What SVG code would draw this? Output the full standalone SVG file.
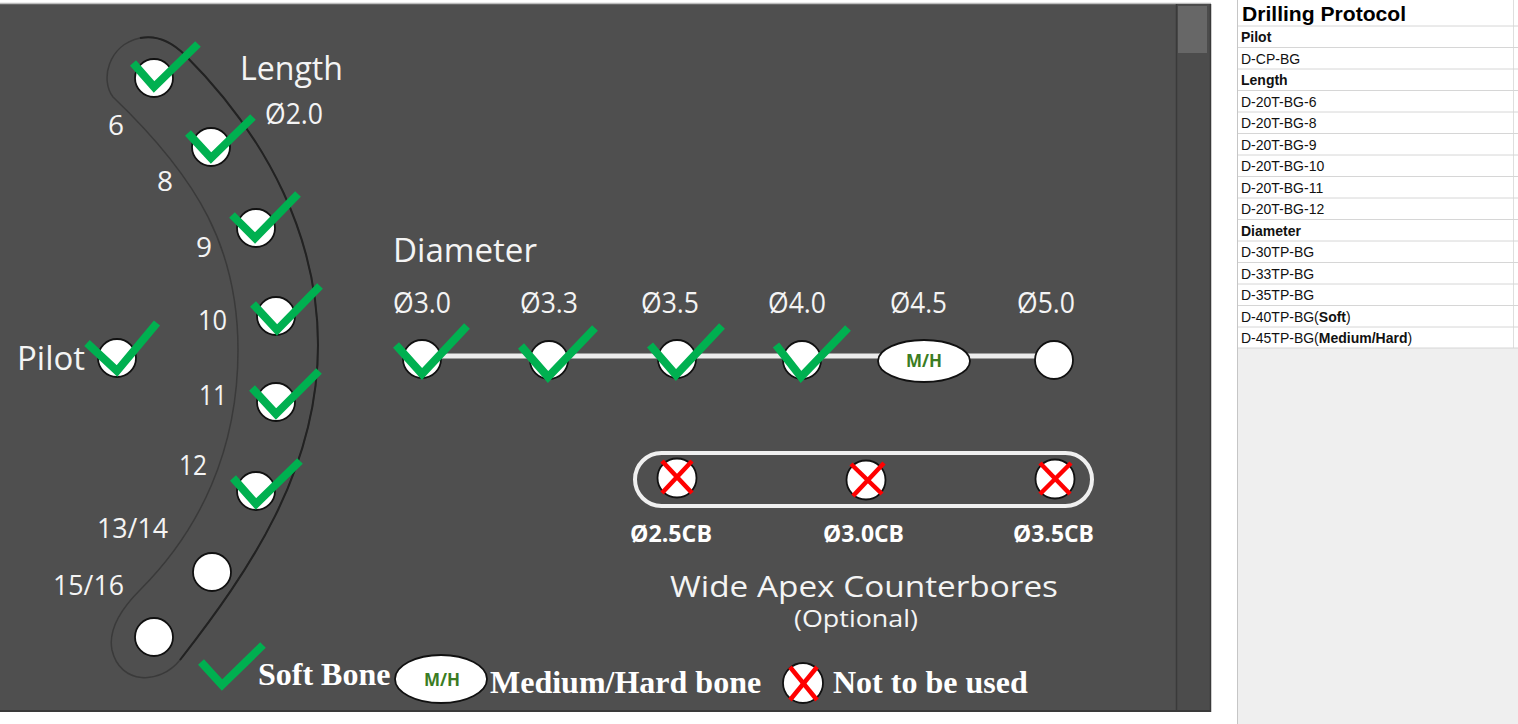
<svg xmlns="http://www.w3.org/2000/svg" width="1518" height="724" viewBox="0 0 1518 724">
<style>
.lbl{font-family:"Open Sans","Noto Sans",sans-serif;fill:#f4f4f4}
.leg{font-family:"Liberation Serif",serif;font-weight:bold;font-size:32px;fill:#ffffff}
.cb{font-family:"Open Sans","Noto Sans",sans-serif;font-weight:bold;font-size:23px;fill:#ffffff}
.mh{font-family:"Open Sans","Noto Sans",sans-serif;font-weight:bold;font-size:17px;fill:#3b7d23}
.hole{fill:#ffffff;stroke:#111111;stroke-width:1.8}
.chk{fill:none;stroke:#00b050;stroke-width:8;stroke-linejoin:miter;stroke-linecap:butt}
.xx{stroke:#ff0000;stroke-width:4.5}
.tb{font-family:"Liberation Sans",Arial,sans-serif;font-size:14px;fill:#111111}
.tbb{font-family:"Liberation Sans",Arial,sans-serif;font-size:14px;font-weight:bold;fill:#111111}
.rl{stroke:#d6d6d6;stroke-width:1}
</style>
<rect x="0" y="0" width="1518" height="724" fill="#ffffff"/>
<!-- dark panel -->
<g id="panel">
<rect x="0" y="3" width="1211" height="709" fill="#4f4f4f"/>
<line x1="0" y1="3.5" x2="1211" y2="3.5" stroke="#bdbdbd" stroke-width="1.5"/>
<rect x="1176" y="4" width="35" height="708" fill="#4c4c4c"/>
<line x1="1176.5" y1="4" x2="1176.5" y2="712" stroke="#3a3a3a" stroke-width="1.5"/>
<rect x="1178" y="6" width="29" height="47" fill="#676767"/>
<line x1="1210.5" y1="4" x2="1210.5" y2="712" stroke="#3a3a3a" stroke-width="1.5"/>
<line x1="0" y1="711" x2="1211" y2="711" stroke="#3a3a3a" stroke-width="2"/>
</g>
<!-- banana outline -->
<g id="length-guide">
<path d="M 113 97 C 100 80, 108 45, 140 38 C 160 34, 175 45, 185 55 C 270 140, 318 240, 318 345 C 318 470, 250 570, 180 660 C 160 685, 120 685, 112 650 C 108 630, 120 610, 140 590 C 200 530, 238 450, 238 350 C 238 250, 200 180, 113 97 Z" fill="none" stroke="#3a3a3a" stroke-width="1.5"/>
<path d="M 140 38 C 160 34, 175 45, 185 55 C 270 140, 318 240, 318 345 C 318 470, 250 570, 180 660" fill="none" stroke="#222222" stroke-width="2"/>
</g>
<!-- connectors -->
<g id="connectors">
<line x1="442" y1="356" x2="1036" y2="356" stroke="#ececec" stroke-width="5"/>
<rect x="635" y="453" width="457" height="53" rx="26.5" fill="none" stroke="#f0f0f0" stroke-width="4"/>
</g>
<!-- titles -->
<g id="titles">
<text class="lbl" x="240" y="80" font-size="33" textLength="103" lengthAdjust="spacingAndGlyphs">Length</text>
<text class="lbl" x="265" y="124" font-size="29" textLength="58" lengthAdjust="spacingAndGlyphs">Ø2.0</text>
<text class="lbl" x="17" y="370" font-size="32" textLength="68" lengthAdjust="spacingAndGlyphs">Pilot</text>
<text class="lbl" x="393" y="262" font-size="33" textLength="144" lengthAdjust="spacingAndGlyphs">Diameter</text>
<text class="lbl" x="670" y="597" font-size="29" textLength="388" lengthAdjust="spacingAndGlyphs">Wide Apex Counterbores</text>
<text class="lbl" x="794" y="627" font-size="24" textLength="124" lengthAdjust="spacingAndGlyphs">(Optional)</text>
</g>
<!-- pilot -->
<g id="node-pilot">
<circle class="hole" cx="117" cy="358" r="19"/>
<polyline class="chk" points="87,343 117,371 157,323"/>
</g>
<!-- length nodes -->
<g id="node-len-6">
<circle class="hole" cx="154" cy="78" r="19"/>
<polyline class="chk" points="133,63 154,87 198,44"/>
<text class="lbl" x="108" y="135" font-size="28">6</text>
</g>
<g id="node-len-8">
<circle class="hole" cx="211" cy="147" r="19"/>
<polyline class="chk" points="188,133 211,158 253,117"/>
<text class="lbl" x="157" y="191" font-size="28">8</text>
</g>
<g id="node-len-9">
<circle class="hole" cx="256" cy="228" r="19"/>
<polyline class="chk" points="232,215 255,238 298,194"/>
<text class="lbl" x="196" y="257" font-size="28">9</text>
</g>
<g id="node-len-10">
<circle class="hole" cx="276" cy="316" r="19"/>
<polyline class="chk" points="253,304 277,330 320,286"/>
<text class="lbl" x="198" y="330" font-size="28" textLength="29" lengthAdjust="spacingAndGlyphs">10</text>
</g>
<g id="node-len-11">
<circle class="hole" cx="276" cy="402" r="19"/>
<polyline class="chk" points="252,388 276,414 319,371"/>
<text class="lbl" x="199" y="405" font-size="28" textLength="28" lengthAdjust="spacingAndGlyphs">11</text>
</g>
<g id="node-len-12">
<circle class="hole" cx="256" cy="491" r="19"/>
<polyline class="chk" points="233,478 256,504 300,461"/>
<text class="lbl" x="179" y="475" font-size="28" textLength="28" lengthAdjust="spacingAndGlyphs">12</text>
</g>
<g id="node-len-13-14">
<circle class="hole" cx="212" cy="572" r="19"/>
<text class="lbl" x="97" y="538" font-size="28" textLength="71" lengthAdjust="spacingAndGlyphs">13/14</text>
</g>
<g id="node-len-15-16">
<circle class="hole" cx="154" cy="637" r="19"/>
<text class="lbl" x="53" y="595" font-size="28" textLength="71" lengthAdjust="spacingAndGlyphs">15/16</text>
</g>
<!-- diameter nodes -->
<g id="node-d30">
<circle class="hole" cx="422" cy="359" r="19"/>
<polyline class="chk" points="396,345 422,374 467,326"/>
<text class="lbl" x="393" y="313" font-size="29" textLength="58" lengthAdjust="spacingAndGlyphs">Ø3.0</text>
</g>
<g id="node-d33">
<circle class="hole" cx="549" cy="360" r="19"/>
<polyline class="chk" points="521,346 548,377 595,328"/>
<text class="lbl" x="520" y="313" font-size="29" textLength="58" lengthAdjust="spacingAndGlyphs">Ø3.3</text>
</g>
<g id="node-d35">
<circle class="hole" cx="677" cy="359" r="19"/>
<polyline class="chk" points="650,345 676,375 722,326"/>
<text class="lbl" x="641" y="313" font-size="29" textLength="58" lengthAdjust="spacingAndGlyphs">Ø3.5</text>
</g>
<g id="node-d40">
<circle class="hole" cx="802" cy="360" r="19"/>
<polyline class="chk" points="776,345 801,377 848,328"/>
<text class="lbl" x="768" y="313" font-size="29" textLength="58" lengthAdjust="spacingAndGlyphs">Ø4.0</text>
</g>
<g id="node-d45">
<ellipse class="hole" cx="924" cy="361" rx="46" ry="21"/>
<text class="mh" x="924" y="367" text-anchor="middle">M/H</text>
<text class="lbl" x="890" y="313" font-size="29" textLength="57" lengthAdjust="spacingAndGlyphs">Ø4.5</text>
</g>
<g id="node-d50">
<circle class="hole" cx="1054" cy="360" r="19"/>
<text class="lbl" x="1017" y="313" font-size="29" textLength="58" lengthAdjust="spacingAndGlyphs">Ø5.0</text>
</g>
<!-- counterbores -->
<g id="node-cb25">
<circle class="hole" cx="677" cy="478" r="19.5"/>
<line class="xx" x1="662" y1="461" x2="692" y2="493"/>
<line class="xx" x1="692" y1="461" x2="662" y2="493"/>
<text class="cb" x="630" y="542" textLength="82" lengthAdjust="spacingAndGlyphs">Ø2.5CB</text>
</g>
<g id="node-cb30">
<circle class="hole" cx="866" cy="480" r="19.5"/>
<line class="xx" x1="851" y1="464" x2="882" y2="494"/>
<line class="xx" x1="884" y1="463" x2="853" y2="496"/>
<text class="cb" x="823" y="542" textLength="81" lengthAdjust="spacingAndGlyphs">Ø3.0CB</text>
</g>
<g id="node-cb35">
<circle class="hole" cx="1055" cy="479" r="19.5"/>
<line class="xx" x1="1040" y1="463" x2="1070" y2="494"/>
<line class="xx" x1="1071" y1="463" x2="1040" y2="494"/>
<text class="cb" x="1013" y="542" textLength="81" lengthAdjust="spacingAndGlyphs">Ø3.5CB</text>
</g>
<!-- legend -->
<g id="legend">
<polyline class="chk" points="201,662 222,685 263,645"/>
<text class="leg" x="258" y="685">Soft Bone</text>
<ellipse class="hole" cx="441" cy="679" rx="46" ry="24"/>
<text class="mh" x="442" y="686" text-anchor="middle">M/H</text>
<text class="leg" x="490" y="693">Medium/Hard bone</text>
<circle class="hole" cx="803" cy="683" r="20"/>
<line class="xx" x1="790" y1="667" x2="817" y2="700"/>
<line class="xx" x1="817" y1="667" x2="790" y2="700"/>
<text class="leg" x="833" y="693">Not to be used</text>
</g>
<!-- table -->
<g id="table">
<rect x="1237" y="348" width="281" height="376" fill="#efefef"/>
<line x1="1237.5" y1="0" x2="1237.5" y2="724" stroke="#c6c6c6" stroke-width="1"/>
<line x1="1513.5" y1="0" x2="1513.5" y2="348" stroke="#dedede" stroke-width="1"/>
<line class="rl" x1="1238" y1="26" x2="1518" y2="26"/>
<line class="rl" x1="1238" y1="47.5" x2="1518" y2="47.5"/>
<line class="rl" x1="1238" y1="69" x2="1518" y2="69"/>
<line class="rl" x1="1238" y1="90.5" x2="1518" y2="90.5"/>
<line class="rl" x1="1238" y1="112" x2="1518" y2="112"/>
<line class="rl" x1="1238" y1="133.5" x2="1518" y2="133.5"/>
<line class="rl" x1="1238" y1="155" x2="1518" y2="155"/>
<line class="rl" x1="1238" y1="176.5" x2="1518" y2="176.5"/>
<line class="rl" x1="1238" y1="198" x2="1518" y2="198"/>
<line class="rl" x1="1238" y1="219.5" x2="1518" y2="219.5"/>
<line class="rl" x1="1238" y1="241" x2="1518" y2="241"/>
<line class="rl" x1="1238" y1="262.5" x2="1518" y2="262.5"/>
<line class="rl" x1="1238" y1="284" x2="1518" y2="284"/>
<line class="rl" x1="1238" y1="305.5" x2="1518" y2="305.5"/>
<line class="rl" x1="1238" y1="327" x2="1518" y2="327"/>
<line class="rl" x1="1238" y1="348" x2="1518" y2="348"/>
<text x="1242" y="21" font-family="Liberation Sans, Arial, sans-serif" font-weight="bold" font-size="20" fill="#000" textLength="164" lengthAdjust="spacingAndGlyphs">Drilling Protocol</text>
<text class="tbb" x="1241" y="42">Pilot</text>
<text class="tb" x="1241" y="64">D-CP-BG</text>
<text class="tbb" x="1241" y="85">Length</text>
<text class="tb" x="1241" y="107">D-20T-BG-6</text>
<text class="tb" x="1241" y="128">D-20T-BG-8</text>
<text class="tb" x="1241" y="150">D-20T-BG-9</text>
<text class="tb" x="1241" y="171">D-20T-BG-10</text>
<text class="tb" x="1241" y="193">D-20T-BG-11</text>
<text class="tb" x="1241" y="214">D-20T-BG-12</text>
<text class="tbb" x="1241" y="236">Diameter</text>
<text class="tb" x="1241" y="257">D-30TP-BG</text>
<text class="tb" x="1241" y="279">D-33TP-BG</text>
<text class="tb" x="1241" y="300">D-35TP-BG</text>
<text class="tb" x="1241" y="322">D-40TP-BG(<tspan font-weight="bold">Soft</tspan>)</text>
<text class="tb" x="1241" y="343">D-45TP-BG(<tspan font-weight="bold">Medium/Hard</tspan>)</text>
</g>
</svg>
